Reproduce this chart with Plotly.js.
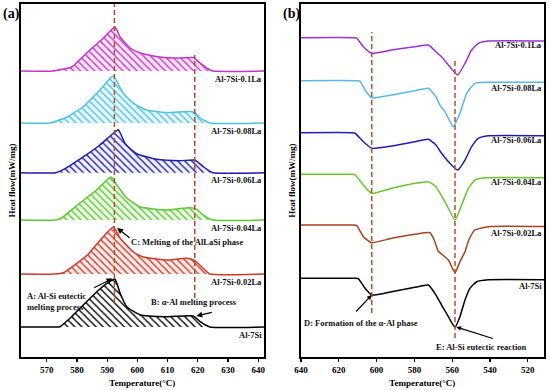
<!DOCTYPE html>
<html>
<head>
<meta charset="utf-8">
<script src="https://cdn.plot.ly/plotly-3.0.1.min.js"></script>
<style>html,body{margin:0;padding:0;background:#fff;}#chart{width:550px;height:390px;}</style>
</head>
<body>
<div id="chart"></div>
<script>
// ---------- DATA ----------
const sampleNames = ['Al-7Si-0.1La', 'Al-7Si-0.08La', 'Al-7Si-0.06La', 'Al-7Si-0.04La', 'Al-7Si-0.02La', 'Al-7Si'];

// Panel (a): heating curves, temperature (°C) and heat flow above baseline (display units)
const aT_010 = [561, 572, 575.4, 578.3, 584.3, 588.8, 592.6, 594.3, 597.6, 600.9, 607.5, 614, 618.5, 620.8, 623.5, 625, 642];
const aH_010 = [0, 0, 2, 4, 21, 33, 44, 34, 23, 18, 14, 13, 13.5, 8, 2, 0, 0];
const aT_008 = [561, 571, 576, 582, 587.6, 592, 595.3, 598.6, 603, 609.7, 617.4, 619, 620.8, 624, 642];
const aH_008 = [0, 0, 5, 16, 33, 47, 30, 20, 13, 10.5, 11.5, 10.5, 5, 0, 0];
const aT_006 = [561, 573, 575.5, 582.2, 587.7, 591.5, 593.7, 596, 599.8, 606.4, 614.1, 619, 621.8, 625, 642];
const aH_006 = [0, 0, 3, 16, 28, 38, 43, 29, 19, 13.4, 12, 12.7, 6, 0, 0];
const aT_004 = [561, 573, 574.9, 581, 586.5, 591.3, 593.2, 596.5, 601, 609.7, 617.4, 619.7, 621.8, 625, 642];
const aH_004 = [0, 0, 2, 17, 30, 43, 35, 22, 13, 10, 12.3, 10.7, 5, 0, 0];
const aT_002 = [561, 573, 575.5, 580, 583.8, 586.6, 592.1, 594.3, 598.7, 602, 609.7, 616.3, 619, 621.8, 624, 642];
const aH_002 = [0, 0, 1.3, 10.7, 20, 30, 47, 35.7, 22, 17, 14, 15.7, 13.3, 5.7, 0, 0];
const aT_000 = [561, 573, 574.4, 577.7, 582.1, 586.6, 589.9, 592.6, 594.3, 596.5, 601, 609.7, 618.5, 620.8, 624, 642];
const aH_000 = [0, 0, 0.3, 8.7, 22, 35.3, 43.7, 47.7, 33.7, 20.3, 12, 10.3, 11, 5.3, 0, 0];
const aOffsets = [286, 234, 184.3, 137, 83, 30];

// Panel (b): cooling curves
const bT_010 = [640.5, 612, 610.5, 607, 602.6, 592, 579.7, 572.6, 568.6, 565.6, 562, 557.1, 553.2, 549.7, 546.2, 540.9, 511];
const bH_010 = [0, 0, -0.5, -9, -15.6, -12.3, -9, -7.3, -14, -19, -27.3, -37.3, -25.6, -12.3, -5.6, -3.3, -3.3];
const bT_008 = [640.5, 610, 608.8, 606.1, 602.6, 592, 579.7, 572.6, 568.6, 566.5, 563.8, 559.4, 555.9, 552.3, 548, 540.9, 511];
const bH_008 = [0, 0, -0.5, -9.3, -17, -14.3, -10, -7.6, -16, -24.3, -31, -46, -32.6, -12.6, -2.6, -1.6, -1.6];
const bT_006 = [640.5, 613, 611.4, 607, 602.6, 592, 579.7, 572.6, 568.6, 565.6, 561.2, 557.1, 553.2, 549.7, 546.2, 540.9, 511];
const bH_006 = [0, 0, -0.5, -9, -15.6, -13.3, -9, -6.6, -12.3, -20.6, -30.6, -37.3, -27.3, -14, -5.6, -3, -3];
const bT_004 = [640.5, 613, 611.4, 607, 602.6, 592, 579.7, 572.6, 568.6, 563.8, 558.5, 555, 551.4, 548, 542.6, 511];
const bH_004 = [0, 0, -0.5, -10.7, -19, -14, -9, -7.4, -12.4, -27.4, -45.7, -30.7, -14, -5.7, -3.4, -3.4];
const bT_002 = [640.5, 612, 610.5, 607, 602.6, 592, 579.7, 571.7, 569.5, 567.4, 565, 562, 558.5, 555.9, 553.2, 551.4, 548, 540, 511];
const bH_002 = [0, 0, -0.5, -11.7, -17.7, -13.3, -9.3, -7.7, -15, -26, -30, -35, -47.7, -36.7, -26.7, -16, -5, -1.5, -1.5];
const bT_000 = [640.5, 611, 609.6, 606.1, 602.6, 592, 579.7, 572.6, 568.6, 565.6, 562, 558.5, 555.9, 553.2, 550.6, 547, 540.9, 511];
const bH_000 = [0, 0, -0.5, -10, -16.7, -13.4, -9, -6.7, -16.7, -26.7, -38.4, -49, -38.4, -21.7, -10, -3.4, -1.5, -1.5];
const bOffsets = [319.3, 276.3, 224.3, 182.7, 132, 78.7];

// Characteristic temperatures (dashed markers)
const aPeakTemps = [592.4, 619];
const bPeakTemps = [602.6, 558.5];
const xTicksA = [570, 580, 590, 600, 610, 620, 630, 640];
const xTicksB = [640, 620, 600, 580, 560, 540, 520];

// ---------- STYLE ----------
const colorsA = ['#c832c8', '#4cc3e6', '#1e1eb4', '#5cc832', '#d0392a', '#000000'];
const tintsA = ['rgba(200,50,200,0.12)', 'rgba(76,195,230,0.14)', 'rgba(30,30,180,0.06)', 'rgba(92,200,50,0.12)', 'rgba(208,57,42,0.10)', 'rgba(255,255,255,0)'];
const colorsB = ['#9a32d6', '#5cb8e8', '#1e1eb4', '#66c828', '#a5431e', '#000000'];
const dashColor = '#b0502a';
const FONT = 'Liberation Serif, Times New Roman, serif';

const aT = [aT_010, aT_008, aT_006, aT_004, aT_002, aT_000];
const aH = [aH_010, aH_008, aH_006, aH_004, aH_002, aH_000];
const bT = [bT_010, bT_008, bT_006, bT_004, bT_002, bT_000];
const bH = [bH_010, bH_008, bH_006, bH_004, bH_002, bH_000];

const traces = [];
for (let i = 0; i < 6; i++) {
  const off = aOffsets[i];
  traces.push({
    x: [561, 642], y: [off, off], xaxis: 'x', yaxis: 'y', mode: 'lines',
    line: {width: 0, color: colorsA[i]}, hoverinfo: 'skip', showlegend: false
  });
  traces.push({
    x: aT[i], y: aH[i].map(v => v + off), xaxis: 'x', yaxis: 'y', mode: 'lines',
    name: sampleNames[i], showlegend: false,
    line: {color: colorsA[i], width: 1.5, shape: 'spline', smoothing: 0.45},
    fill: 'tonexty', fillcolor: tintsA[i],
    fillpattern: {shape: '\\', fgcolor: colorsA[i], bgcolor: tintsA[i], size: 5, solidity: 0.28}
  });
}
for (let i = 0; i < 6; i++) {
  const off = bOffsets[i];
  traces.push({
    x: bT[i], y: bH[i].map(v => v + off), xaxis: 'x2', yaxis: 'y2', mode: 'lines',
    name: sampleNames[i], showlegend: false,
    line: {color: colorsB[i], width: 1.5, shape: 'spline', smoothing: 0.45}
  });
}

const tickFont = {family: FONT, size: 9, color: '#000', weight: 'bold'};
const titleFont = {family: FONT, size: 9, color: '#000', weight: 'bold'};
const labFont = {family: FONT, size: 8.5, color: '#111', weight: 'bold'};

const axisCommon = {
  showgrid: false, zeroline: false, showline: true, linewidth: 2, linecolor: '#000', mirror: true,
  ticks: 'outside', ticklen: 3, tickwidth: 1.2, tickcolor: '#000', tickfont: tickFont, automargin: false
};
const yCommon = {
  showgrid: false, zeroline: false, showline: true, linewidth: 2, linecolor: '#000', mirror: true,
  ticks: '', showticklabels: false, range: [0, 353], automargin: false,
  title: {text: 'Heat flow(mW/mg)', font: titleFont, standoff: 2}
};

const shapes = [];
shapes.push({type: 'line', xref: 'x', yref: 'y', x0: aPeakTemps[0], x1: aPeakTemps[0], y0: 54, y1: 353, line: {color: dashColor, width: 1.5, dash: '5px,3px'}});
shapes.push({type: 'line', xref: 'x', yref: 'y', x0: aPeakTemps[1], x1: aPeakTemps[1], y0: 59, y1: 302, line: {color: dashColor, width: 1.5, dash: '5px,3px'}});
shapes.push({type: 'line', xref: 'x2', yref: 'y2', x0: bPeakTemps[0], x1: bPeakTemps[0], y0: 44, y1: 325, line: {color: dashColor, width: 1.5, dash: '5px,3px'}});
shapes.push({type: 'line', xref: 'x2', yref: 'y2', x0: bPeakTemps[1], x1: bPeakTemps[1], y0: 19, y1: 297, line: {color: dashColor, width: 1.5, dash: '5px,3px'}});

const annotations = [];
for (let i = 0; i < 6; i++) {
  annotations.push({xref: 'x domain', yref: 'y', x: 1, y: aOffsets[i] - 7.5, xanchor: 'right', yanchor: 'middle', text: sampleNames[i], showarrow: false, font: labFont});
  annotations.push({xref: 'x2 domain', yref: 'y2', x: 1, y: bOffsets[i] - 7.7, xanchor: 'right', yanchor: 'middle', text: sampleNames[i], showarrow: false, font: labFont});
}
// panel letters
annotations.push({xref: 'paper', yref: 'paper', x: 0.002, y: 0.965, xanchor: 'left', yanchor: 'middle', text: '(a)', showarrow: false, font: {family: FONT, size: 14, color: '#000', weight: 'bold'}});
annotations.push({xref: 'paper', yref: 'paper', x: 0.511, y: 0.965, xanchor: 'left', yanchor: 'middle', text: '(b)', showarrow: false, font: {family: FONT, size: 14, color: '#000', weight: 'bold'}});
// process annotations (a)
annotations.push({xref: 'x', yref: 'y', x: 597.2, y: 115, xanchor: 'left', yanchor: 'middle', text: 'C: Melting of the AlLaSi phase', showarrow: false, font: labFont});
annotations.push({xref: 'x', yref: 'y', x: 593.3, y: 129, ax: 14, ay: 11, text: '', showarrow: true, arrowhead: 2, arrowsize: 1, arrowwidth: 1.2, arrowcolor: '#000'});
annotations.push({xref: 'x', yref: 'y', x: 562.8, y: 56, xanchor: 'left', yanchor: 'middle', align: 'left', text: 'A: Al-Si eutectic<br>melting process', showarrow: false, font: labFont});
annotations.push({xref: 'x', yref: 'y', x: 591.8, y: 78.5, ax: -20, ay: 10, text: '', showarrow: true, arrowhead: 2, arrowsize: 1, arrowwidth: 1.2, arrowcolor: '#000'});
annotations.push({xref: 'x', yref: 'y', x: 603.8, y: 55, xanchor: 'left', yanchor: 'middle', text: 'B: α-Al melting process', showarrow: false, font: labFont});
annotations.push({xref: 'x', yref: 'y', x: 619.5, y: 41, ax: 17, ay: -4, text: '', showarrow: true, arrowhead: 2, arrowsize: 1, arrowwidth: 1.2, arrowcolor: '#000'});
// process annotations (b)
annotations.push({xref: 'x2', yref: 'y2', x: 639.3, y: 34.3, xanchor: 'left', yanchor: 'middle', text: 'D: Formation of the α-Al phase', showarrow: false, font: labFont});
annotations.push({xref: 'x2', yref: 'y2', x: 602.6, y: 62, ax: -17, ay: 18, text: '', showarrow: true, arrowhead: 2, arrowsize: 0.8, arrowwidth: 1.2, arrowcolor: '#000'});
annotations.push({xref: 'x2', yref: 'y2', x: 569.5, y: 10.3, xanchor: 'left', yanchor: 'middle', text: 'E: Al-Si eutectic reaction', showarrow: false, font: labFont});
annotations.push({xref: 'x2', yref: 'y2', x: 557.8, y: 30, ax: 38, ay: 12, text: '', showarrow: true, arrowhead: 2, arrowsize: 0.8, arrowwidth: 1.2, arrowcolor: '#000'});

const layout = {
  width: 550, height: 390,
  margin: {l: 0, r: 0, t: 0, b: 0},
  paper_bgcolor: '#fff', plot_bgcolor: '#fff',
  showlegend: false,
  font: {family: FONT},
  xaxis: Object.assign({}, axisCommon, {domain: [0.0376, 0.48], range: [561.4, 641.9], tickvals: xTicksA, ticktext: xTicksA.map(String), anchor: 'y',
    title: {text: 'Temperature(°C)', font: titleFont, standoff: 6}}),
  yaxis: Object.assign({}, yCommon, {domain: [0.0846, 0.9897], anchor: 'x'}),
  xaxis2: Object.assign({}, axisCommon, {domain: [0.5467, 0.989], range: [640.2, 511.4], tickvals: xTicksB, ticktext: xTicksB.map(String), anchor: 'y2',
    title: {text: 'Temperature(°C)', font: titleFont, standoff: 6}}),
  yaxis2: Object.assign({}, yCommon, {domain: [0.0846, 0.9897], anchor: 'x2'}),
  shapes: shapes,
  annotations: annotations
};

Plotly.newPlot('chart', traces, layout, {staticPlot: true, displayModeBar: false});
</script>
</body>
</html>
